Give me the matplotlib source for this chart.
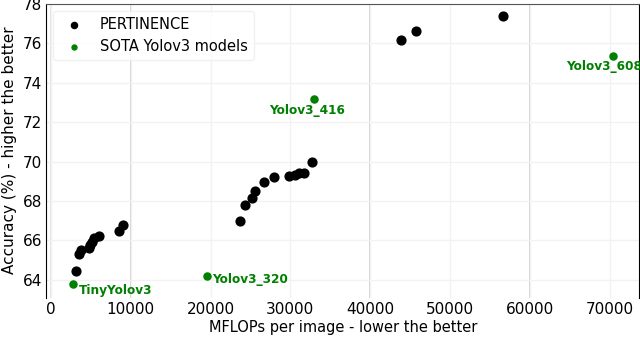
import matplotlib
matplotlib.use("Agg")
import matplotlib.pyplot as plt

# PERTINENCE points (MFLOPs per image, accuracy %)
pert_mflops = [3170, 3470, 3800, 4720, 4920, 5210, 5460, 6090, 8520, 9020,
               23640, 24350, 25190, 25600, 26640, 27900, 29860, 30610, 31030, 31740, 32700,
               43820, 45690, 56590]
pert_acc = [64.45, 65.29, 65.5, 65.6, 65.75, 65.9, 66.14, 66.22, 66.47, 66.8,
            66.98, 67.79, 68.16, 68.5, 68.96, 69.22, 69.26, 69.34, 69.43, 69.43, 69.98,
            76.14, 76.62, 77.35]

# SOTA Yolov3 models
sota_names = ["TinyYolov3", "Yolov3_320", "Yolov3_416", "Yolov3_608"]
sota_mflops = [2750, 19550, 32910, 70370]
sota_acc = [63.77, 64.21, 73.17, 75.37]
label_offsets = [(4, -4, "left"), (4, -2.5, "left"), (-5, -8, "center"), (-6, -8, "center")]

fig = plt.figure(figsize=(6.4, 3.6), dpi=100)
ax = fig.add_axes([0.072, 0.173, 0.927, 0.817])

ax.grid(True, color="#f2f2f2", lw=1.0, zorder=0)
for xv, c in [(0, "#dddddd"), (10000, "#cccccc"), (40000, "#cccccc"), (60000, "#cccccc")]:
    ax.axvline(xv, color=c, lw=1.2, zorder=0.5)

ax.scatter(pert_mflops, pert_acc, s=40, color="black", label="PERTINENCE", zorder=3)
ax.scatter(sota_mflops, sota_acc, s=26, color="green", label="SOTA Yolov3 models", zorder=3)
for name, x, y, (dx, dy, ha) in zip(sota_names, sota_mflops, sota_acc, label_offsets):
    ax.annotate(name, (x, y), xytext=(dx, dy), textcoords="offset points",
                ha=ha, va="center", color="green", fontsize=8.7, fontweight="bold")

ax.set_xlim(-600, 73700)
ax.set_ylim(63.1, 78)
ax.set_xticks(range(0, 70001, 10000))
ax.set_yticks(range(64, 79, 2))
ax.tick_params(length=0, labelsize=11, pad=3)
ax.set_xlabel("MFLOPs per image - lower the better", fontsize=10.5, labelpad=2)
ax.set_ylabel("Accuracy (%) - higher the better", fontsize=11, labelpad=4)

ax.spines["bottom"].set_visible(False)
ax.spines["top"].set_color("#555555")
ax.spines["left"].set_color("black")
ax.spines["right"].set_color("black")

leg = ax.legend(loc="upper left", fontsize=10.5, markerscale=0.7, framealpha=0.8)
leg.get_frame().set_edgecolor("#eeeeee")

fig.savefig("out.png", dpi=100)
